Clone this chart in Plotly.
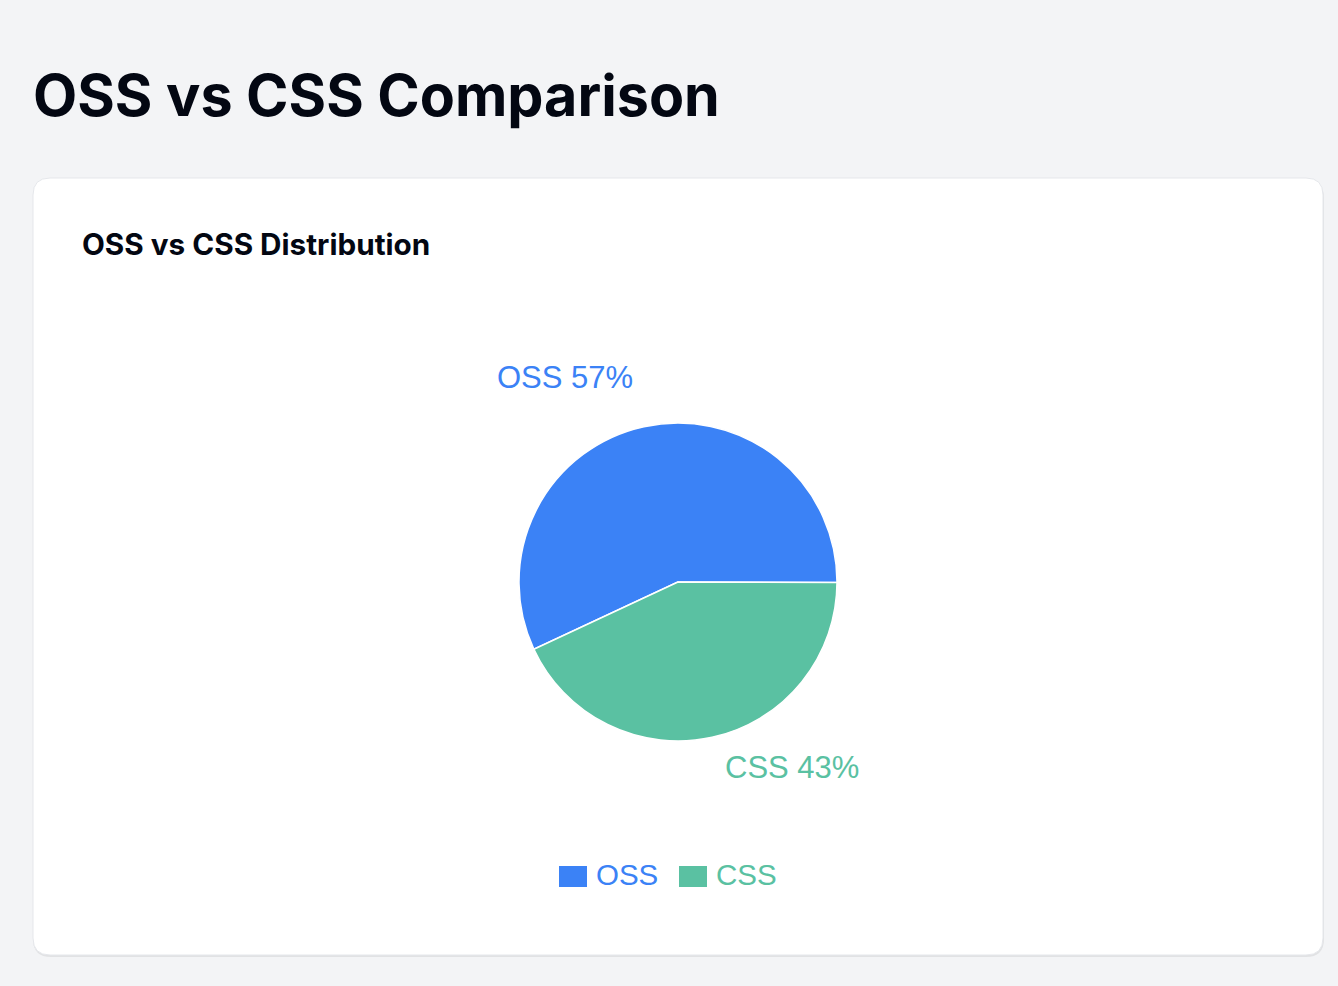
import plotly.graph_objects as go

# ---- data ----
categories = ["OSS", "CSS"]
values = [57, 43]
colors = ["#3b82f6", "#5ac1a2"]

page_title = "OSS vs CSS Comparison"
card_title = "OSS vs CSS Distribution"

W, H = 1338, 986


def px(x):
    return x / W


def py(y):
    return 1 - y / H


def rounded_rect(x0, y0, x1, y1, r):
    rx, ry = r / W, r / H
    X0, X1 = px(x0), px(x1)
    Y0, Y1 = py(y0), py(y1)  # Y0 top (higher), Y1 bottom
    return (
        f"M {X0+rx},{Y0} L {X1-rx},{Y0} Q {X1},{Y0} {X1},{Y0-ry} "
        f"L {X1},{Y1+ry} Q {X1},{Y1} {X1-rx},{Y1} "
        f"L {X0+rx},{Y1} Q {X0},{Y1} {X0},{Y1+ry} "
        f"L {X0},{Y0-ry} Q {X0},{Y0} {X0+rx},{Y0} Z"
    )


fig = go.Figure()
fig.add_trace(
    go.Pie(
        labels=categories,
        values=values,
        marker=dict(colors=colors, line=dict(color="white", width=1.5)),
        textinfo="none",
        sort=False,
        direction="counterclockwise",
        rotation=-115,
        showlegend=False,
        hoverinfo="label+percent",
        domain=dict(x=[px(519), px(837)], y=[py(741), py(423)]),
    )
)

shapes = [
    # card shadow
    dict(type="path", xref="paper", yref="paper",
         path=rounded_rect(33, 180, 1324, 957, 18),
         fillcolor="rgba(0,0,0,0.07)", line=dict(width=0), layer="below"),
    # card
    dict(type="path", xref="paper", yref="paper",
         path=rounded_rect(33, 178, 1323, 955, 17),
         fillcolor="white", line=dict(color="#e5e7eb", width=1), layer="below"),
]

annotations = [
    dict(text=f"<b>{page_title}</b>", x=px(31), y=py(95), xref="paper", yref="paper",
         xanchor="left", yanchor="middle", showarrow=False,
         font=dict(family="Inter", size=57.4, color="#030712")),
    dict(text=f"<b>{card_title}</b>", x=px(80), y=py(244), xref="paper", yref="paper",
         xanchor="left", yanchor="middle", showarrow=False,
         font=dict(family="Inter", size=29.7, color="#030712")),
]

total = sum(values)
label_pos = [(565, 377), (792, 767)]
for cat, val, col, (lx, ly) in zip(categories, values, colors, label_pos):
    annotations.append(dict(
        text=f"{cat} {round(val / total * 100)}%", x=px(lx), y=py(ly),
        xref="paper", yref="paper", xanchor="center", yanchor="middle",
        showarrow=False, font=dict(family="Liberation Sans", size=31, color=col)))

# legend
leg_x = [559, 679]
for cat, col, lx in zip(categories, colors, leg_x):
    shapes.append(dict(type="rect", xref="paper", yref="paper",
                       x0=px(lx), x1=px(lx + 28), y0=py(887), y1=py(866),
                       fillcolor=col, line=dict(width=0)))
    annotations.append(dict(text=cat, x=px(lx + 35), y=py(874), xref="paper", yref="paper",
                            xanchor="left", yanchor="middle", showarrow=False,
                            font=dict(family="Liberation Sans", size=29.5, color=col)))

fig.update_layout(
    width=W, height=H,
    margin=dict(l=0, r=0, t=0, b=0),
    paper_bgcolor="#f3f4f6",
    plot_bgcolor="#f3f4f6",
    shapes=shapes,
    annotations=annotations,
    showlegend=False,
)

fig.write_html(
    "out.html",
    config={"displayModeBar": False},
    post_script="document.body.style.margin='0';document.body.style.background='#f3f4f6';",
)
